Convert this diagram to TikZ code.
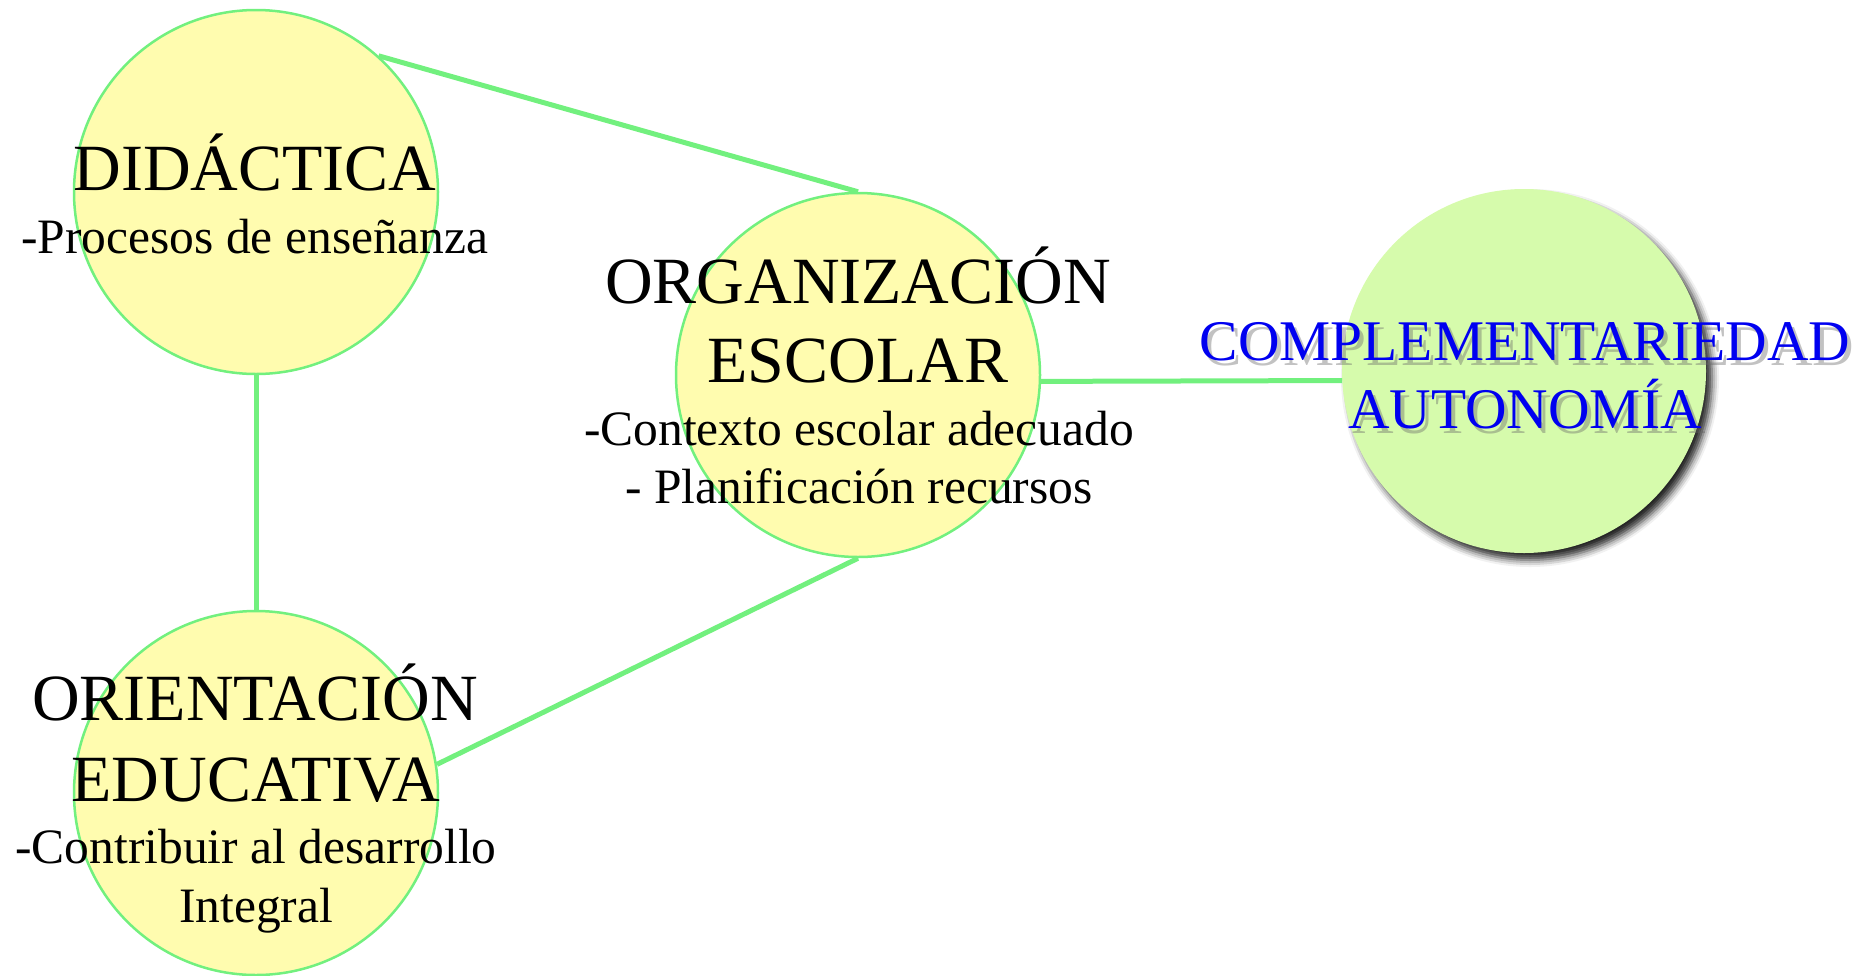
\documentclass[tikz,border=0pt]{standalone}
\usepackage{fontspec}
\setmainfont{Liberation Serif}
\usetikzlibrary{shadows.blur}
\definecolor{circfill}{HTML}{FFFCAF}
\definecolor{circline}{HTML}{72F07E}
\definecolor{linkcol}{HTML}{72F07E}
\definecolor{compfill}{HTML}{D6FBAC}
\definecolor{comptext}{HTML}{0000F0}
\begin{document}
\begin{tikzpicture}[x=1pt,y=-1pt,
  bubble/.style={circle, minimum size=364pt, inner sep=0pt, fill=circfill, draw=circline, line width=2.5pt},
  compbubble/.style={circle, minimum size=364pt, inner sep=0pt, fill=compfill,
     blur shadow={shadow xshift=6pt, shadow yshift=-7pt, shadow blur radius=7pt, shadow opacity=85}},
  link/.style={draw=linkcol, line width=5pt},
  title/.style={anchor=base, inner sep=0pt, font=\fontsize{66}{70}\selectfont},
  sub/.style={anchor=base, inner sep=0pt, font=\fontsize{49.5}{54}\selectfont},
  ctitle/.style={anchor=base, inner sep=0pt, text=comptext, font=\fontsize{57.5}{62}\selectfont},
  cshadow/.style={anchor=base, inner sep=0pt, text=black!60, opacity=0.4, font=\fontsize{57.5}{62}\selectfont}]
\useasboundingbox (0,0) rectangle (1869,975);
\node[bubble] (did) at (256,192) {};
\node[bubble] (org) at (858,375) {};
\node[bubble] (ori) at (256,793) {};
\node[compbubble] (comp) at (1524,371) {};
\draw[link] (did.48) -- (org.north);
\draw[link] (did.south) -- (ori.north);
\draw[link] (ori.9.6) -- (org.south);
\draw[link] (org.-2.5) -- (comp.183.8);
\node[title] (didt) at (255,190) {DIDÁCTICA};
\node[sub] (dids) at (255,253) {-Procesos de enseñanza};
\node[title] (orgt1) at (858,303) {ORGANIZACIÓN};
\node[title] (orgt2) at (858,382) {ESCOLAR};
\node[sub] (orgs1) at (859,445) {-Contexto escolar adecuado};
\node[sub] (orgs2) at (859,503) {- Planificación recursos};
\node[title] (orit1) at (255,720) {ORIENTACIÓN};
\node[title] (orit2) at (256,801) {EDUCATIVA};
\node[sub] (oris1) at (256,863) {-Contribuir al desarrollo};
\node[sub] (oris2) at (256,922) {Integral};
\node[cshadow] (cs1) at (1529,365) {COMPLEMENTARIEDAD};
\node[cshadow] (cs2) at (1529,433) {AUTONOMÍA};
\node[ctitle] (ct1) at (1525,360) {COMPLEMENTARIEDAD};
\node[ctitle] (ct2) at (1525,428) {AUTONOMÍA};
\end{tikzpicture}
\end{document}
